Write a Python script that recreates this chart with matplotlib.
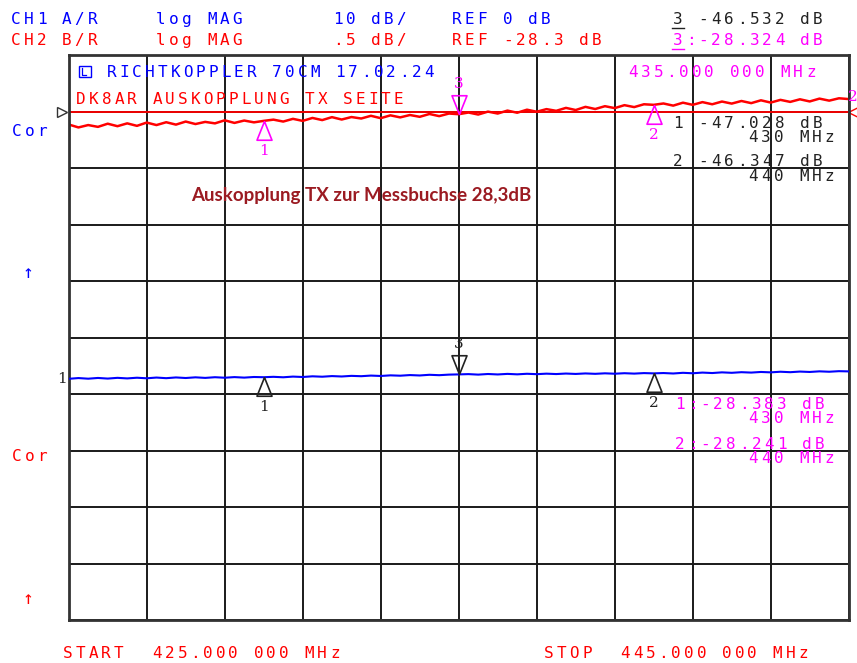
import numpy as np
import matplotlib
matplotlib.use("Agg")
import matplotlib.pyplot as plt
from matplotlib.lines import Line2D
from matplotlib.patches import Rectangle

W, H = 857, 663

f_start, f_stop = 425.0, 445.0
n_pts = 81
ch2_ref, ch2_scale = -28.3, 0.5   # dB, dB/div
ch1_ref, ch1_scale = 0.0, 10.0

ch2_trace = [
    -28.415, -28.441, -28.420, -28.436, -28.408, -28.430, -28.405, -28.427, -28.398, -28.420,
    -28.395, -28.416, -28.389, -28.411, -28.392, -28.405, -28.378, -28.401, -28.380, -28.396,
    -28.383,
    -28.372, -28.389, -28.365, -28.383, -28.357, -28.376, -28.350, -28.371, -28.349, -28.362,
    -28.338, -28.359, -28.334, -28.352, -28.331, -28.347, -28.322, -28.341, -28.318, -28.324,
    -28.309, -28.327, -28.301, -28.318, -28.292, -28.311, -28.284, -28.302, -28.279, -28.294,
    -28.268, -28.287, -28.259, -28.278, -28.253, -28.270, -28.244, -28.261, -28.236, -28.241,
    -28.229, -28.248, -28.222, -28.241, -28.217, -28.236, -28.212, -28.230, -28.207, -28.226,
    -28.201, -28.221, -28.197, -28.215, -28.192, -28.211, -28.186, -28.204, -28.183, -28.190,
]
ch1_trace = [
    -47.31, -47.18, -47.29, -47.16, -47.27, -47.14, -47.24, -47.12, -47.22, -47.09,
    -47.20, -47.07, -47.17, -47.05, -47.15, -47.03, -47.12, -47.01, -47.10, -46.99,
    -47.03,
    -46.96, -47.04, -46.92, -46.99, -46.87, -46.94, -46.83, -46.90, -46.79, -46.85,
    -46.74, -46.81, -46.70, -46.76, -46.65, -46.72, -46.60, -46.67, -46.57, -46.53,
    -46.48, -46.57, -46.46, -46.54, -46.44, -46.52, -46.42, -46.49, -46.40, -46.47,
    -46.38, -46.45, -46.36, -46.43, -46.34, -46.41, -46.32, -46.39, -46.30, -46.35,
    -46.29, -46.37, -46.25, -46.33, -46.21, -46.29, -46.17, -46.25, -46.14, -46.21,
    -46.10, -46.17, -46.06, -46.14, -46.03, -46.10, -45.99, -46.06, -45.96, -46.00,
]
mk_freq = [430, 440, 435]
mk_names = ["1", "2", "3"]
mk_ch1 = [-47.028, -46.347, -46.532]
mk_ch2 = [-28.383, -28.241, -28.324]

freq = np.linspace(f_start, f_stop, n_pts)

fig = plt.figure(figsize=(W / 100, H / 100), dpi=100)
fig.patch.set_facecolor("white")

ax = fig.add_axes([68.7 / W, 1 - 620 / H, 780 / W, 565 / H])
ax.set_xlim(f_start, f_stop)
ax.set_ylim(ch2_ref - 9 * ch2_scale, ch2_ref + 1 * ch2_scale)
ax.set_xticks(np.linspace(f_start, f_stop, 11))
ax.set_yticks(np.linspace(ch2_ref - 9 * ch2_scale, ch2_ref + ch2_scale, 11))
ax.tick_params(length=0, labelbottom=False, labelleft=False)
ax.grid(True, color="#1a1a1a", lw=1.4)
ax.set_axisbelow(True)
for s in ax.spines.values():
    s.set_color("#333333")
    s.set_linewidth(2)

ax2 = ax.twinx()
ax2.set_ylim(ch1_ref - 9 * ch1_scale, ch1_ref + 1 * ch1_scale)
ax2.set_yticks([])
for s in ax2.spines.values():
    s.set_visible(False)

# Referenzlinie CH2
ax.axhline(ch2_ref, color="red", lw=1.3)
ax.plot([f_start - 0.16], [ch2_ref], marker=">", ms=7, mfc="white", mec="#333333",
        clip_on=False)
ax.plot([f_stop + 0.12], [ch2_ref], marker="<", ms=7, mfc="none", mec="red",
        clip_on=False)

# Traces
ax.plot(freq, ch2_trace, color="red", lw=1.8)
ax2.plot(freq, ch1_trace, color="#0000ff", lw=1.5)

up = [(0, 0), (-0.4, -1), (0.4, -1), (0, 0)]
down = [(0, 0), (-0.4, 1), (0.4, 1), (0, 0)]
for axx, vals, col in [(ax, mk_ch2, "#ff00ff"), (ax2, mk_ch1, "#222222")]:
    for f, v, name in zip(mk_freq, vals, mk_names):
        shape = down if name == "3" else up
        axx.plot([f], [v], marker=shape, ms=27, mfc="none", mec=col, mew=1.2)
        dy = 30 if name == "3" else -30
        axx.annotate(name, xy=(f, v), xytext=(0, dy), textcoords="offset pixels",
                     ha="center", va="center", color=col, fontsize=11,
                     family="DejaVu Serif")

# Beschriftung im HP-Stil
P = 12.7


def hp(x, y, s, color, size=11.5):
    for i, ch in enumerate(s):
        if ch != " ":
            fig.text((x + i * P) / W, 1 - (y + 6) / H, ch, color=color,
                     fontsize=size, family="DejaVu Sans Mono", ha="center",
                     va="baseline")


blue, red, mag, blk = "#0000ff", "#ff0000", "#ff00ff", "#222222"
hp(16, 18, "CH1 A/R", blue)
hp(161, 18, "log MAG", blue)
hp(338, 18, "10 dB/", blue)
hp(457, 18, "REF 0 dB", blue)
hp(16, 39, "CH2 B/R", red)
hp(161, 39, "log MAG", red)
hp(338, 39, ".5 dB/", red)
hp(457, 39, "REF -28.3 dB", red)
hp(678, 18, "3 -46.532 dB", blk)
hp(678, 39, "3:-28.324 dB", mag)
fig.add_artist(Line2D([672 / W, 684 / W], [1 - 28 / H, 1 - 28 / H], color=blk, lw=1))
fig.add_artist(Line2D([672 / W, 684 / W], [1 - 49 / H, 1 - 49 / H], color=mag, lw=1))

fig.add_artist(Rectangle((79 / W, 1 - 77 / H), 12 / W, 11 / H, fill=False,
                         edgecolor=blue, lw=1))
fig.add_artist(Line2D([82 / W, 82 / W, 86 / W], [1 - 68 / H, 1 - 75 / H, 1 - 75 / H],
                      color=blue, lw=0.9))
hp(111.7, 71, "RICHTKOPPLER 70CM 17.02.24", blue)
hp(81, 98, "DK8AR AUSKOPPLUNG TX SEITE", red)
hp(633, 71, "435.000 000 MHz", mag)

hp(678, 122, "1 -47.028 dB", blk)
hp(753, 136, "430 MHz", blk)
hp(678, 160, "2 -46.347 dB", blk)
hp(753, 175, "440 MHz", blk)
hp(680, 403, "1:-28.383 dB", mag)
hp(753, 417, "430 MHz", mag)
hp(680, 443, "2:-28.241 dB", mag)
hp(753, 457, "440 MHz", mag)

hp(17, 130, "Cor", blue)
hp(17, 455, "Cor", red)
hp(28, 272, "\u2191", blue, size=13)
hp(28, 598, "\u2191", red, size=13)
hp(68, 652, "START  425.000 000 MHz", red)
hp(549, 652, "STOP  445.000 000 MHz", red)

fig.text(62 / W, 1 - 379 / H, "1", color=blk, fontsize=11, family="DejaVu Serif",
         ha="center", va="center")
fig.text(853 / W, 1 - 97 / H, "2", color=mag, fontsize=11, family="DejaVu Serif",
         ha="center", va="center")

fig.text(361 / W, 1 - 195 / H, "Auskopplung TX zur Messbuchse 28,3dB",
         color="#9b1b22", fontsize=13.5, family="Lato", fontweight="bold",
         ha="center", va="center")

fig.savefig("out.png", dpi=100)
